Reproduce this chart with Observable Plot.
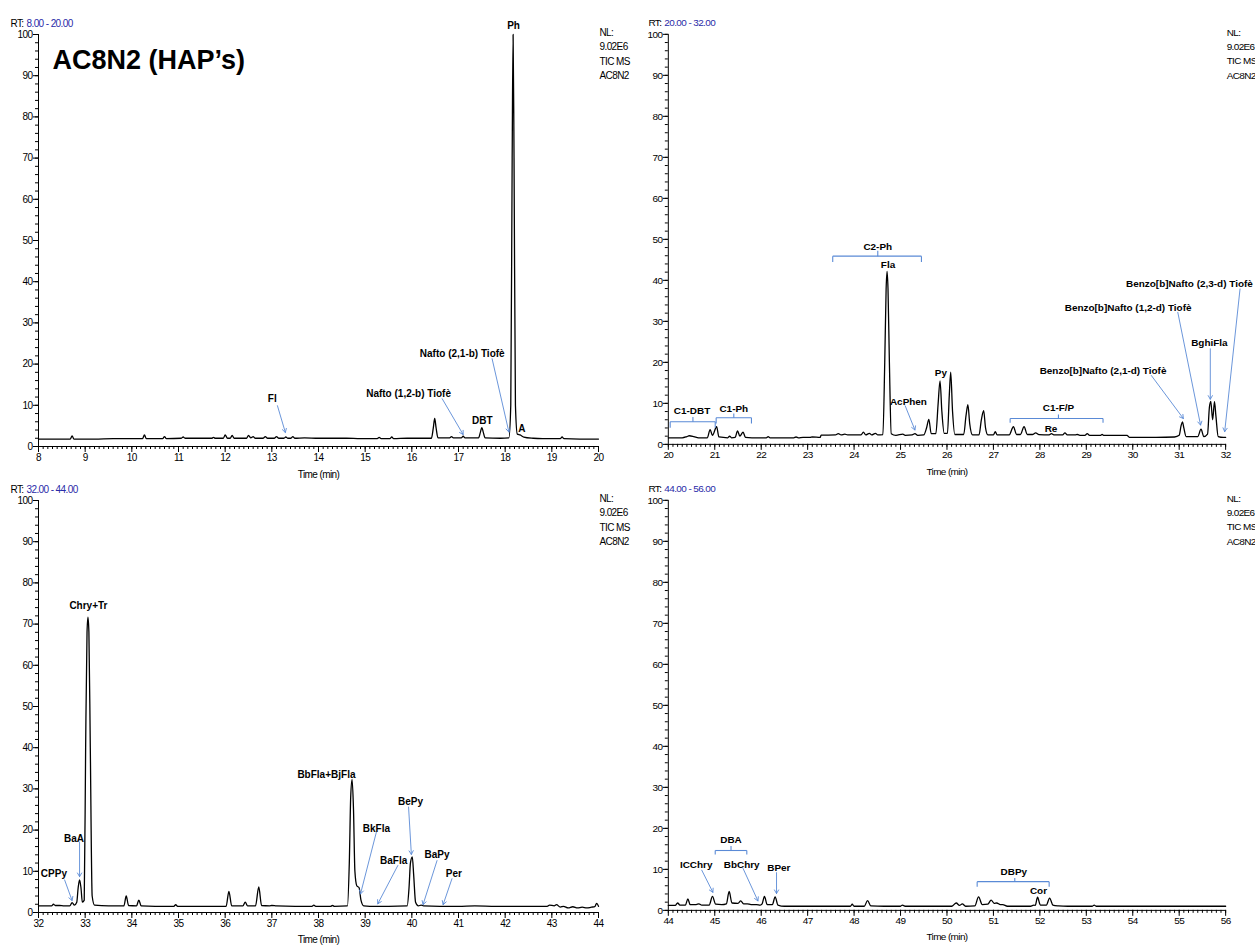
<!DOCTYPE html>
<html><head><meta charset="utf-8">
<script src="https://cdn.jsdelivr.net/npm/d3@7"></script>
<script src="https://cdn.jsdelivr.net/npm/@observablehq/plot@0.6"></script>
<style>
html,body{margin:0;padding:0;background:#fff;overflow:hidden;}
#wrap{position:relative;width:1255px;height:949px;}
.panel{position:absolute;}
.panel g[font-family*="Narrow"]{letter-spacing:-0.6px;}
</style></head><body><div id="wrap"></div>
<script>
// ---------- data ----------
const titleText = "AC8N2 (HAP’s)";
const rtRanges = ["8.00 - 20.00", "20.00 - 32.00", "32.00 - 44.00", "44.00 - 56.00"];
const timeDomains = [[8, 20], [20, 32], [32, 44], [44, 56]];
const nlLines = ["NL:", "9.02E6", "TIC MS", "AC8N2"];
const xLabel = "Time (min)";

// chromatogram traces [time (min), relative abundance]
const trace1 = [[8.00,1.8],[8.30,1.8],[8.68,1.8],[8.72,2.6],[8.76,1.8],[9.20,1.8],[9.60,1.9],[10.00,1.9],[10.23,1.9],[10.27,2.8],[10.31,1.9],[10.66,1.9],[10.70,2.4],[10.74,1.9],[11.06,2.0],[11.10,2.3],[11.14,2.0],[11.71,2.0],[11.75,2.2],[11.79,2.0],[11.96,2.0],[12.00,2.8],[12.05,2.0],[12.11,2.0],[12.15,2.7],[12.19,2.0],[12.46,2.0],[12.50,2.7],[12.55,2.1],[12.60,2.4],[12.64,2.0],[12.81,2.0],[12.86,2.4],[12.91,2.0],[13.05,2.0],[13.10,2.4],[13.15,2.0],[13.26,2.0],[13.30,2.3],[13.34,2.0],[13.41,2.0],[13.45,2.4],[13.49,2.0],[13.70,2.1],[14.00,2.0],[14.30,2.0],[14.60,2.0],[14.90,1.9],[15.26,1.9],[15.30,2.2],[15.34,1.9],[15.53,1.9],[15.57,2.3],[15.61,1.9],[15.90,2.0],[16.20,2.0],[16.42,2.0],[16.46,4.5],[16.49,6.8],[16.52,4.5],[16.56,2.1],[16.81,2.1],[16.85,2.4],[16.89,2.1],[17.06,2.1],[17.10,2.5],[17.14,2.1],[17.43,2.1],[17.47,3.5],[17.50,4.6],[17.53,3.5],[17.57,2.1],[17.90,2.0],[18.08,2.1],[18.12,10],[18.15,70],[18.17,100],[18.19,70],[18.22,10],[18.26,3.0],[18.32,2.8],[18.40,2.3],[18.60,2.0],[18.80,1.9],[19.18,1.9],[19.22,2.3],[19.26,1.9],[19.60,1.8],[20.00,1.8]];
const trace2 = [[20.00,1.6],[20.30,1.6],[20.40,1.9],[20.45,2.1],[20.55,1.9],[20.65,1.6],[20.84,1.6],[20.90,3.6],[20.95,2.2],[21.04,4.3],[21.09,1.8],[21.28,1.6],[21.32,2.0],[21.36,1.6],[21.44,1.7],[21.49,3.3],[21.54,2.0],[21.61,3.0],[21.66,1.7],[21.80,1.6],[22.11,1.6],[22.15,1.9],[22.19,1.6],[22.70,1.6],[22.75,1.8],[22.80,1.6],[22.90,1.7],[23.05,1.7],[23.10,1.8],[23.27,1.7],[23.29,2.25],[23.60,2.3],[23.66,2.6],[23.72,2.3],[23.80,2.5],[23.86,2.3],[24.15,2.3],[24.20,3.0],[24.25,2.3],[24.33,2.7],[24.38,2.3],[24.46,2.7],[24.51,2.3],[24.62,2.4],[24.66,20],[24.69,38],[24.71,42.2],[24.73,38],[24.76,20],[24.80,2.6],[24.90,2.2],[25.05,2.5],[25.10,2.2],[25.25,2.3],[25.31,2.6],[25.37,2.2],[25.50,2.3],[25.56,4],[25.61,6.1],[25.66,2.6],[25.76,2.6],[25.81,10],[25.85,15.5],[25.89,8],[25.94,2.7],[26.01,2.7],[26.05,12],[26.08,17.6],[26.12,8],[26.17,2.4],[26.36,2.4],[26.41,7],[26.45,9.7],[26.49,5],[26.55,2.3],[26.69,2.3],[26.74,6],[26.79,8.2],[26.83,4],[26.88,2.3],[27.00,2.3],[27.04,3.1],[27.08,2.3],[27.34,2.3],[27.43,4.3],[27.50,2.4],[27.58,2.4],[27.66,4.3],[27.73,2.4],[27.84,2.4],[27.91,2.8],[27.98,2.4],[28.20,2.3],[28.25,2.6],[28.30,2.3],[28.49,2.3],[28.54,2.8],[28.59,2.3],[28.76,2.3],[28.81,2.4],[28.86,2.2],[28.97,2.2],[29.02,2.6],[29.07,2.2],[29.30,2.2],[29.34,2.4],[29.38,2.2],[29.88,2.2],[29.90,2.0],[29.93,1.7],[30.50,1.7],[30.90,1.8],[31.00,2.2],[31.04,4.5],[31.07,5.5],[31.10,4],[31.15,1.9],[31.40,1.9],[31.47,3.7],[31.53,1.9],[31.61,2.5],[31.65,9],[31.68,10.5],[31.72,6.0],[31.76,10.4],[31.79,7],[31.84,1.9],[31.95,1.7],[32.00,1.7]];
const trace3 = [[32.00,1.6],[32.28,1.6],[32.32,2.0],[32.36,1.7],[32.45,1.7],[32.55,1.6],[32.67,1.6],[32.72,2.4],[32.77,1.8],[32.82,2.5],[32.85,6],[32.88,7.9],[32.91,6],[32.94,2.5],[32.98,3],[33.01,40],[33.04,68],[33.06,71.7],[33.08,68],[33.11,40],[33.15,4],[33.20,1.8],[33.50,1.6],[33.83,1.6],[33.88,4.0],[33.93,1.7],[34.10,1.6],[34.15,3.0],[34.20,1.6],[34.50,1.5],[34.90,1.5],[34.94,1.9],[34.98,1.5],[35.50,1.5],[36.02,1.5],[36.08,5.1],[36.14,1.6],[36.38,1.6],[36.43,2.5],[36.48,1.6],[36.65,1.6],[36.72,6.2],[36.78,1.7],[36.95,1.6],[37.00,1.7],[37.10,1.6],[37.50,1.5],[37.86,1.5],[37.90,1.8],[37.94,1.5],[38.26,1.5],[38.30,1.7],[38.34,1.5],[38.62,1.6],[38.66,12],[38.69,28],[38.72,32.3],[38.75,25],[38.78,10],[38.82,6.5],[38.87,6.0],[38.91,3],[38.97,1.6],[39.10,1.5],[39.30,1.5],[39.50,1.5],[39.90,1.6],[39.94,6],[39.97,12],[40.01,13.5],[40.04,9],[40.08,2.5],[40.14,1.6],[40.20,1.8],[40.25,1.6],[40.60,1.5],[41.00,1.5],[41.35,1.6],[41.80,1.5],[42.30,1.5],[42.90,1.5],[42.95,1.8],[43.05,1.6],[43.10,1.9],[43.18,1.3],[43.25,1.5],[43.35,1.1],[43.45,1.4],[43.55,1.1],[43.65,1.3],[43.75,1.1],[43.85,1.3],[43.92,1.4],[43.96,2.2],[44.00,1.5]];
const trace4 = [[44.00,1.2],[44.15,1.2],[44.20,1.8],[44.25,1.3],[44.37,1.3],[44.42,2.8],[44.47,1.4],[44.60,1.4],[44.66,1.6],[44.72,1.3],[44.88,1.3],[44.95,3.4],[45.02,1.5],[45.15,1.4],[45.25,1.6],[45.31,4.6],[45.37,1.8],[45.50,1.7],[45.56,2.3],[45.62,1.6],[45.70,1.6],[45.78,1.4],[45.90,1.4],[45.98,1.3],[46.02,1.6],[46.07,3.4],[46.13,1.4],[46.24,1.4],[46.30,3.3],[46.36,1.3],[46.50,1.0],[47.00,1.0],[47.50,1.0],[47.92,1.0],[47.96,1.5],[48.00,1.0],[48.22,1.0],[48.29,2.4],[48.36,1.1],[48.65,1.0],[49.00,1.0],[49.04,1.3],[49.10,1.0],[50.10,1.0],[50.20,1.8],[50.27,1.2],[50.33,1.6],[50.40,1.0],[50.60,1.1],[50.68,3.3],[50.76,1.4],[50.88,1.5],[50.95,2.5],[51.02,1.7],[51.07,1.8],[51.15,1.4],[51.20,1.4],[51.30,1.0],[51.80,1.0],[51.87,1.3],[51.90,1.2],[51.95,3.2],[52.01,1.3],[52.14,1.3],[52.21,3.0],[52.28,1.3],[52.40,1.1],[52.60,1.0],[53.13,1.0],[53.17,1.3],[53.21,1.0],[53.90,1.0],[54.50,1.0],[55.00,1.0],[56.00,1.0]];

// peak labels [time, abundance, text]
const labels1 = [[18.18,102.2,"Ph"],[13.01,11.6,"Fl"],[15.93,12.8,"Nafto (1,2-b) Tiofè"],[17.08,22.5,"Nafto (2,1-b) Tiofè"],[17.51,6.3,"DBT"],[18.36,4.3,"A"]];
const labels2 = [[24.51,48.3,"C2-Ph"],[24.73,43.7,"Fla"],[20.51,8.1,"C1-DBT"],[21.41,8.7,"C1-Ph"],[25.87,17.5,"Py"],[25.17,10.4,"AcPhen"],[28.40,8.9,"C1-F/P"],[28.24,3.9,"Re"],[29.36,18.0,"Benzo[b]Nafto (2,1-d) Tiofè"],[29.90,33.4,"Benzo[b]Nafto (1,2-d) Tiofè"],[31.65,24.8,"BghiFla"],[31.22,39.1,"Benzo[b]Nafto (2,3-d) Tiofè"]];
const labels3 = [[33.07,74.5,"Chry+Tr"],[32.76,17.9,"BaA"],[32.33,9.5,"CPPy"],[38.17,33.5,"BbFla+BjFla"],[39.24,20.3,"BkFla"],[39.61,12.6,"BaFla"],[39.97,26.8,"BePy"],[40.54,14.1,"BaPy"],[40.90,9.4,"Per"]];
const labels4 = [[45.35,17.3,"DBA"],[44.60,11.2,"ICChry"],[45.58,11.2,"BbChry"],[46.38,10.4,"BPer"],[51.44,9.5,"DBPy"],[51.97,4.7,"Cor"]];

// arrows [time1, abundance1, time2, abundance2]
const arrows1 = [[13.12,9.9,13.29,3.4],[16.65,11.6,17.10,2.9],[17.72,21.3,18.08,3.5]];
const arrows2 = [[25.10,9.4,25.31,3.5],[30.40,16.8,31.09,6.3],[30.97,32.2,31.46,4.7],[31.67,23.3,31.67,11.0],[32.31,37.9,31.98,3.1]];
const arrows3 = [[32.88,17.1,32.88,8.7],[32.56,7.9,32.72,2.9],[39.24,19.5,38.90,4.5],[39.70,11.4,39.27,2.1],[39.93,25.6,39.99,14.1],[40.54,12.6,40.24,1.9],[40.86,8.2,40.67,1.9]];
const arrows4 = [[44.72,9.8,44.96,4.4],[45.61,10.2,45.93,2.3],[46.33,9.2,46.33,4.1]];

// group brackets [start, end, middle, line level, end level, tip level]
const brackets2 = [[23.54,25.45,24.51,45.9,44.5,47.2],[20.04,21.01,20.53,5.5,4.05,6.7],[21.03,21.79,21.41,6.5,5.1,7.5],[27.36,29.36,28.40,6.3,5.3,7.3]];
const brackets4 = [[45.01,45.69,45.35,14.6,13.6,15.7],[50.65,52.20,51.46,7.0,5.75,7.9]];

// ---------- drawing ----------
const FN = "'Liberation Sans Narrow','Arial Narrow','Liberation Sans',Arial,sans-serif";
const FB = "'Liberation Sans',Arial,Helvetica,sans-serif";
const BLUE = "#5a8ad6";
const RTBLUE = "#2a2aa8";

function bracketSegs(br) {
  const s = [];
  for (const [a, b, m, v, ve, vt] of br) {
    s.push([a, ve, a, v], [a, v, b, v], [b, v, b, ve], [m, v, m, vt]);
  }
  return s;
}

function panel(i, trace, labels, arrows, brackets, opts) {
  const [t0, t1] = timeDomains[i];
  const majors = d3.range(t0, t1 + 0.001, 1);
  const minors = d3.range(0, (t1 - t0) * 10 + 1).map(k => t0 + k / 10);
  const marks = [
    Plot.ruleX([t0], {stroke: "black", strokeWidth: 1}),
    Plot.ruleY([0], {stroke: "black", strokeWidth: 1}),
    Plot.axisY(d3.range(0, 101, 2), {tickSize: 3, tickFormat: () => "", label: null, stroke: "black"}),
    Plot.axisY(d3.range(0, 101, 10), {tickSize: 5, tickPadding: 1, label: null, fontFamily: FN, fontSize: 10, fill: "black", stroke: "black"}),
    Plot.axisX(minors, {tickSize: 3, tickFormat: () => "", label: null, stroke: "black"}),
    Plot.axisX(majors, {tickSize: 6, tickPadding: 1, tickFormat: d => String(d), label: null, fontFamily: FN, fontSize: 10, fill: "black", stroke: "black"}),
    Plot.text([xLabel], {frameAnchor: "bottom", dy: opts.xLabelDy, fontFamily: FN, fontSize: 10, fill: "black"}),
    Plot.text(["RT:"], {frameAnchor: "top-left", dx: opts.rtDx, dy: -15, textAnchor: "start", fontFamily: FN, fontSize: 10, fill: "black"}),
    Plot.text([rtRanges[i]], {frameAnchor: "top-left", dx: opts.rtDx + 16, dy: -15, textAnchor: "start", fontFamily: FN, fontSize: 10, fill: RTBLUE}),
    Plot.text([nlLines.join("\n")], {frameAnchor: "top-right", dx: 1, dy: -9, textAnchor: "start", lineAnchor: "top", lineHeight: 1.45, fontFamily: FN, fontSize: 10, fill: "black"}),
    Plot.line(trace, {x: d => d[0], y: d => d[1], stroke: "black", strokeWidth: 1.3, curve: "monotone-x"}),
    Plot.link(bracketSegs(brackets), {x1: d => d[0], y1: d => d[1], x2: d => d[2], y2: d => d[3], stroke: BLUE, strokeWidth: 1.1}),
    Plot.arrow(arrows, {x1: d => d[0], y1: d => d[1], x2: d => d[2], y2: d => d[3], stroke: BLUE, strokeWidth: 0.9, headLength: 7, bend: 0}),
    Plot.text(labels, {x: d => d[0], y: d => d[1], text: d => d[2], fontFamily: FB, fontWeight: "bold", fontSize: 10, fill: "black"})
  ];
  if (opts.title) {
    marks.push(Plot.text([titleText], {frameAnchor: "top-left", dx: 14, dy: 34, textAnchor: "start", lineAnchor: "bottom", fontFamily: FB, fontWeight: "bold", fontSize: 27, fill: "black"}));
  }
  return Plot.plot({
    width: 628,
    height: opts.height,
    marginLeft: 38, marginRight: 30, marginTop: 34, marginBottom: opts.marginBottom,
    style: {background: "transparent", overflow: "visible", fontFamily: FN, fontSize: "10px", color: "black"},
    x: {domain: [t0, t1], label: null},
    y: {domain: [0, 100], label: null},
    marks
  });
}

const wrap = document.getElementById("wrap");
const specs = [
  {i: 0, tr: trace1, lb: labels1, ar: arrows1, br: [], left: 0, top: 0, opts: {height: 486, marginBottom: 40, xLabelDy: 31, rtDx: -28, title: true}},
  {i: 1, tr: trace2, lb: labels2, ar: arrows2, br: brackets2, left: 630, top: 0, opts: {height: 486, marginBottom: 40, xLabelDy: 31, rtDx: -20}},
  {i: 2, tr: trace3, lb: labels3, ar: arrows3, br: [], left: 0, top: 466, opts: {height: 484, marginBottom: 38, xLabelDy: 30, rtDx: -28}},
  {i: 3, tr: trace4, lb: labels4, ar: arrows4, br: brackets4, left: 630, top: 466, opts: {height: 484, marginBottom: 38, xLabelDy: 30, rtDx: -20}}
];
for (const s of specs) {
  const el = panel(s.i, s.tr, s.lb, s.ar, s.br, s.opts);
  const d = document.createElement("div");
  d.className = "panel";
  d.style.left = s.left + "px";
  d.style.top = s.top + "px";
  d.appendChild(el);
  wrap.appendChild(d);
}
</script>
</body></html>
